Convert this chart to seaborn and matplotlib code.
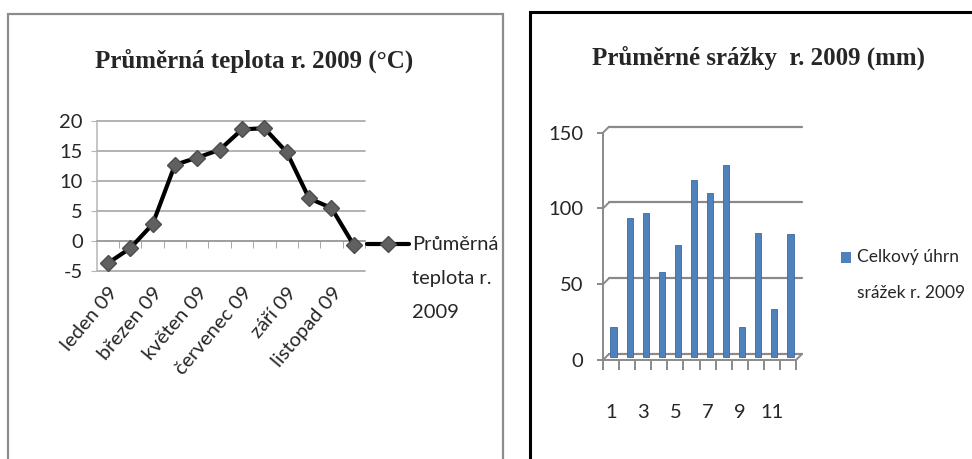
import numpy as np
import pandas as pd
import seaborn as sns
import matplotlib
matplotlib.use("Agg")
import matplotlib.pyplot as plt
from matplotlib import font_manager
from matplotlib.transforms import offset_copy, Affine2D
from matplotlib.patches import Rectangle, ConnectionPatch, Patch
from matplotlib.lines import Line2D
from matplotlib.legend_handler import HandlerLine2D, HandlerPatch

# ---- data -------------------------------------------------------------
months = ["leden 09", "únor 09", "březen 09", "duben 09", "květen 09", "červen 09",
          "červenec 09", "srpen 09", "září 09", "říjen 09", "listopad 09", "prosinec 09"]
temperature = [-3.7, -1.2, 2.8, 12.7, 13.9, 15.2, 18.6, 18.8, 14.8, 7.1, 5.5, -0.7]

precip_month = list(range(1, 13))
precipitation = [20, 92, 95, 56, 74, 117, 108, 127, 20, 82, 32, 81]

temp_title = "Průměrná teplota r. 2009 (°C)"
temp_label = "Průměrná\nteplota r.\n2009"
rain_title = "Průměrné srážky  r. 2009 (mm)"
rain_label = "Celkový úhrn\nsrážek r. 2009"
temp_yticks = [-5, 0, 5, 10, 15, 20]
rain_yticks = [0, 50, 100, 150]

# ---- style ------------------------------------------------------------
sns.set_style("white")
available = {f.name for f in font_manager.fontManager.ttflist}
if "Liberation Sans Narrow" in available:
    plt.rcParams["font.family"] = ["Liberation Sans Narrow", "DejaVu Sans"]
    fs, fs_leg2 = 17, 16
else:
    plt.rcParams["font.family"] = ["Lato", "DejaVu Sans"]
    fs, fs_leg2 = 14.5, 12.5
plt.rcParams["axes.unicode_minus"] = False
TITLE_FONT = dict(family=["Liberation Serif", "DejaVu Serif"], weight="bold", size=18)

BLUE = "#4F81BD"
GRID_L = "#a6a6a6"
GRID_R = "#8a8a8a"

W, H = 972, 459
fig = plt.figure(figsize=(W / 100, H / 100), dpi=100)
fig.patch.set_facecolor("white")


def fx(px):
    return px / W


def fy(py):
    return 1 - py / H


class HandlerLineTop(HandlerLine2D):
    """Line legend key lifted to sit beside the first label line."""
    def __init__(self, lift, **kw):
        super().__init__(**kw)
        self.lift = lift

    def create_artists(self, legend, orig_handle, xdescent, ydescent,
                       width, height, fontsize, trans):
        return super().create_artists(legend, orig_handle, xdescent, ydescent,
                                      width, height, fontsize,
                                      Affine2D().translate(0, self.lift) + trans)


class HandlerPatchTop(HandlerPatch):
    def __init__(self, lift, **kw):
        super().__init__(**kw)
        self.lift = lift

    def create_artists(self, legend, orig_handle, xdescent, ydescent,
                       width, height, fontsize, trans):
        return super().create_artists(legend, orig_handle, xdescent, ydescent,
                                      width, height, fontsize,
                                      Affine2D().translate(0, self.lift) + trans)


# ---- left panel: temperature line ----------------------------------------
ax1 = fig.add_axes([fx(96.7), fy(271), fx(268.3), 150 / H])
df_t = pd.DataFrame({"pos": np.arange(len(months)), "temp": temperature})
sns.lineplot(data=df_t, x="pos", y="temp", ax=ax1, color="black", lw=3,
             marker="D", markersize=8, markerfacecolor="#606060",
             markeredgecolor="#4d4d4d", markeredgewidth=1, legend=False,
             zorder=5, clip_on=False)
ax1.set_xlim(-0.5, 11.5)
ax1.set_ylim(-5, 20)
ax1.set_yticks(temp_yticks)
ax1.set_xticks(np.arange(0, 12, 2))
ax1.set_xticklabels(months[::2])
ax1.set_xticks(np.arange(0.5, 12, 1), minor=True)
ax1.set_xlabel("")
ax1.set_ylabel("")
for s in ("top", "right"):
    ax1.spines[s].set_visible(False)
ax1.spines["left"].set_color("#b5b5b5")
ax1.spines["left"].set_linewidth(1.1)
ax1.spines["bottom"].set_position(("data", 0))
ax1.spines["bottom"].set_color("#9a9a9a")
ax1.spines["bottom"].set_linewidth(1.1)
ax1.yaxis.grid(True, color=GRID_L, lw=1.2)
for gl in ax1.get_ygridlines():
    gl.set_clip_on(False)
ax1.tick_params(axis="y", length=4, color="#b5b5b5", pad=6, labelsize=fs, left=True)
ax1.tick_params(axis="x", which="major", length=0, pad=31, labelsize=fs)
ax1.tick_params(axis="x", which="minor", length=5, color="#9a9a9a", direction="out", bottom=True)
for lab in ax1.get_xticklabels():
    lab.set_rotation(50)
    lab.set_ha("right")
    lab.set_rotation_mode("anchor")

fig.text(fx(254), fy(61), temp_title, ha="center", va="center", **TITLE_FONT)

h_line = Line2D([], [], color="black", lw=3, marker="D", markersize=8,
                markerfacecolor="#606060", markeredgecolor="#4d4d4d", markeredgewidth=1)
leg1 = ax1.legend(handles=[h_line], labels=[temp_label], loc="upper left",
                  bbox_to_anchor=(fx(367), fy(236)), bbox_transform=fig.transFigure,
                  frameon=False, borderpad=0, borderaxespad=0, fontsize=fs,
                  handlelength=2.1, handletextpad=0.12,
                  handler_map={Line2D: HandlerLineTop(lift=24.5)})
for t in leg1.get_texts():
    t.set_linespacing(2.2)

# ---- right panel: precipitation columns ----------------------------------
ax2 = fig.add_axes([fx(603), fy(360), fx(193), 227.3 / H])
df_r = pd.DataFrame({"month": precip_month, "rain": precipitation})
sns.barplot(data=df_r, x="month", y="rain", ax=ax2, color=BLUE, width=0.38,
            saturation=1, edgecolor="#3d6a9e", linewidth=0.6, zorder=3)
bar_shift = offset_copy(ax2.transData, fig, x=2.5, y=3, units="dots")
for p in ax2.patches:
    p.set_transform(bar_shift)
ax2.set_xlim(-0.5, 11.5)
ax2.set_ylim(0, 150)
ax2.set_yticks(rain_yticks)
ax2.set_xticks(np.arange(0, 12, 2))
ax2.set_xticklabels([str(m) for m in precip_month[::2]])
ax2.set_xticks(np.arange(-0.5, 12, 1), minor=True)
ax2.set_xlabel("")
ax2.set_ylabel("")
for s in ("top", "right"):
    ax2.spines[s].set_visible(False)
for s in ("left", "bottom"):
    ax2.spines[s].set_color(GRID_R)
    ax2.spines[s].set_linewidth(1.4)
ax2.tick_params(axis="y", length=4, color=GRID_R, width=1.4, pad=10, labelsize=fs, left=True)
ax2.tick_params(axis="x", which="major", length=0, pad=32, labelsize=fs)
ax2.tick_params(axis="x", which="minor", length=7, color=GRID_R, width=1.4,
                direction="out", bottom=True)

# back wall gridlines with a shallow depth offset
back = offset_copy(ax2.get_yaxis_transform(), fig, x=6, y=6, units="dots")
for v in rain_yticks:
    ax2.plot([0, 1], [v, v], transform=back, color=GRID_R, lw=1.6,
             clip_on=False, zorder=1)
    ax2.add_artist(ConnectionPatch(xyA=(0, v), coordsA=ax2.get_yaxis_transform(),
                                   xyB=(0, v), coordsB=back, color=GRID_R, lw=1.4))
ax2.add_artist(ConnectionPatch(xyA=(1, 0), coordsA=ax2.get_yaxis_transform(),
                               xyB=(1, 0), coordsB=back, color=GRID_R, lw=1.4))

fig.text(fx(758), fy(58), rain_title, ha="center", va="center", **TITLE_FONT)

h_bar = Patch(facecolor=BLUE, edgecolor="none")
leg2 = ax2.legend(handles=[h_bar], labels=[rain_label], loc="upper left",
                  bbox_to_anchor=(fx(841), fy(249)), bbox_transform=fig.transFigure,
                  frameon=False, borderpad=0, borderaxespad=0, fontsize=fs_leg2,
                  handlelength=0.6, handleheight=0.6, handletextpad=0.3,
                  handler_map={Patch: HandlerPatchTop(lift=12.6)})
for t in leg2.get_texts():
    t.set_linespacing(2.55)

# ---- panel frames -------------------------------------------------------
fig.add_artist(Rectangle((fx(8), -0.05), fx(503 - 8), 1 - 14 / H + 0.05,
                         transform=fig.transFigure, fill=False,
                         ec="#8c8c8c", lw=1.6))
fig.add_artist(Rectangle((fx(530), -0.05), 0.6, 1 - 12 / H + 0.05,
                         transform=fig.transFigure, fill=False,
                         ec="black", lw=2.2))

fig.savefig("out.png", dpi=100)
